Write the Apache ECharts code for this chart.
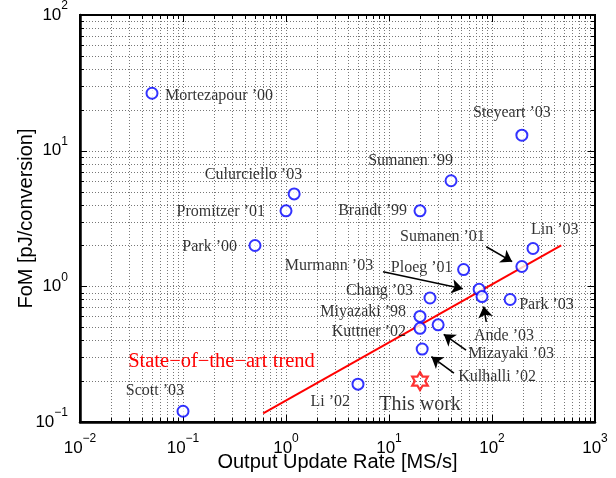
<!DOCTYPE html>
<html><head><meta charset="utf-8">
<script src="https://cdn.jsdelivr.net/npm/echarts@6/dist/echarts.min.js"></script>
<style>html,body{margin:0;padding:0;background:#fff}#c{width:616px;height:478px}</style>
</head><body><div id="c"></div>
<script>
// ---- data ----
const designNames = ["Mortezapour ’00","Steyeart ’03","Sumanen ’99","Culurciello ’03","Promitzer ’01","Brandt ’99","Park ’00","Lin ’03","Sumanen ’01","Ploeg ’01","Murmann ’03","Ande ’03","Park ’03","Chang ’03","Miyazaki ’98","Kuttner ’02","Mizayaki ’03","Kulhalli ’02","Li ’02","Scott ’03"];
const updateRateMSs = [0.05, 195, 40, 1.2, 1.0, 20, 0.5, 250, 195, 53, 75, 80, 150, 25, 20, 20, 30, 21, 5, 0.1];
const fomPJ = [26.5, 13, 6.0, 4.8, 3.6, 3.6, 2.0, 1.9, 1.4, 1.33, 0.95, 0.84, 0.8, 0.82, 0.6, 0.49, 0.52, 0.345, 0.19, 0.12];
const thisWorkName = ["This work"];
const thisWorkRate = [20];
const thisWorkFoM = [0.2];
const trendName = "State−of−the−art trend";
const trendRate = [0.6, 470];
const trendFoM = [0.116, 2.0];
const xTickValues = [0.01, 0.1, 1, 10, 100, 1000];
const yTickValues = [0.1, 1, 10, 100];
// arrows: annotation target -> tail [rate, FoM] and head [rate, FoM]
const arrowFrom = {"Sumanen ’01":[88,1.96],"Murmann ’03":[8.75,1.28],"Ande ’03":[88,0.548],"Mizayaki ’03":[56,0.339],"Kulhalli ’02":[42.7,0.229]};
const arrowTo   = {"Sumanen ’01":[157,1.52],"Murmann ’03":[52,0.96],"Ande ’03":[83,0.71],"Mizayaki ’03":[34,0.443],"Kulhalli ’02":[25.8,0.303]};

// ---- label layout (pixel offsets from marker centre) ----
const labelLayout = {
  "Mortezapour ’00":['left',13,3], "Steyeart ’03":['center',-10,-22], "Sumanen ’99":['right',2,-20],
  "Culurciello ’03":['right',8,-19], "Promitzer ’01":['right',-21,1], "Brandt ’99":['right',-13,0],
  "Park ’00":['right',-18,1], "Lin ’03":['left',-2,-19], "Sumanen ’01":['right',-37,-30],
  "Ploeg ’01":['right',-11,-2], "Murmann ’03":['right',-106,-24], "Ande ’03":['left',-8,39],
  "Park ’03":['left',9,5], "Chang ’03":['right',-17,-7], "Miyazaki ’98":['right',-14,-5],
  "Kuttner ’02":['right',-14,3], "Mizayaki ’03":['left',30,29], "Kulhalli ’02":['left',36,28],
  "Li ’02":['right',-8,18], "Scott ’03":['right',1,-20], "This work":['center',0,24]
};
const serif = "'Liberation Serif','Times New Roman',serif";
const sans = "'Liberation Sans',Arial,Helvetica,sans-serif";

function hexagram(){
  let d='';
  for(let k=0;k<12;k++){
    const a=(-90+30*k)*Math.PI/180, r=(k%2===0)?10:10/Math.sqrt(3);
    d+=(k?'L':'M')+(r*Math.cos(a)).toFixed(3)+' '+(r*Math.sin(a)).toFixed(3)+' ';
  }
  return 'path://'+d+'Z';
}

// grid lines (decades x 1..9)
const gridData = [];
function addGrid(ticks, kind){
  for(let i=0;i<ticks.length-1;i++){
    for(let m=1;m<=9;m++){
      const v = ticks[i]*m;
      if(i===0 && m===1) continue;
      gridData.push(kind===0 ? [v,1,0,m===1?1:0] : [1,v,1,m===1?1:0]);
    }
  }
}
addGrid(xTickValues,0); addGrid(yTickValues,1);

function renderGrid(params, api){
  const cs = params.coordSys;
  const L=cs.x, T=cs.y, R=cs.x+cs.width, B=cs.y+cs.height;
  const kind=api.value(2), major=api.value(3);
  const tl = major?7:4;
  const dotted={stroke:'#777',lineWidth:1,lineDash:[1,2]};
  const solid={stroke:'#000',lineWidth:1};
  const ch=[];
  if(kind===0){
    const x=Math.round(api.coord([api.value(0),1])[0])+0.5;
    ch.push({type:'line',shape:{x1:x,y1:T,x2:x,y2:B},style:dotted});
    ch.push({type:'line',shape:{x1:x,y1:B,x2:x,y2:B-tl},style:solid});
    ch.push({type:'line',shape:{x1:x,y1:T,x2:x,y2:T+tl},style:solid});
  } else {
    const y=Math.round(api.coord([1,api.value(1)])[1])+0.5;
    ch.push({type:'line',shape:{x1:L,y1:y,x2:R,y2:y},style:dotted});
    ch.push({type:'line',shape:{x1:L,y1:y,x2:L+tl,y2:y},style:solid});
    ch.push({type:'line',shape:{x1:R,y1:y,x2:R-tl,y2:y},style:solid});
  }
  return {type:'group',children:ch,silent:true};
}

function powLabel(v){
  const e=Math.round(Math.log10(v));
  return '{b|10}{s|'+(e<0?'−'+(-e):e)+'}';
}
const tickRich={b:{fontFamily:sans,fontSize:17,color:'#000',lineHeight:20},
                s:{fontFamily:sans,fontSize:12,color:'#000',lineHeight:14,padding:[0,0,18,0]}};

function itemLabel(name){
  const l=labelLayout[name];
  return {show:true,position:'inside',formatter:'{b}',align:l[0],verticalAlign:'middle',offset:[l[1],l[2]]};
}

const scatterData = designNames.map((n,i)=>({name:n,value:[updateRateMSs[i],fomPJ[i]],label:itemLabel(n)}));
const starData = thisWorkName.map((n,i)=>({name:n,value:[thisWorkRate[i],thisWorkFoM[i]],label:itemLabel(n)}));
const arrowLines = Object.keys(arrowFrom).map(k=>[{coord:arrowFrom[k]},{coord:arrowTo[k]}]);

const chart = echarts.init(document.getElementById('c'),null,{renderer:'canvas'});
chart.setOption({
  animation:false,
  backgroundColor:'#fff',
  grid:{left:80,right:21,top:15,bottom:56,outerBoundsMode:'none',containLabel:false,
        show:true,borderColor:'#000',borderWidth:2,backgroundColor:'transparent'},
  xAxis:{type:'log',logBase:10,min:0.01,max:1000,
    name:'Output Update Rate [MS/s]',nameLocation:'middle',nameGap:30,nameMoveOverlap:false,
    nameTextStyle:{fontFamily:sans,fontSize:20,color:'#000'},
    axisLine:{show:true,lineStyle:{color:'#000',width:2.5}},
    axisTick:{show:false},splitLine:{show:false},
    axisLabel:{formatter:powLabel,rich:tickRich,margin:16,color:'#000'}},
  yAxis:{type:'log',logBase:10,min:0.1,max:100,
    name:'FoM [pJ/conversion]',nameLocation:'middle',nameGap:44,nameRotate:90,nameMoveOverlap:false,
    nameTextStyle:{fontFamily:sans,fontSize:20,color:'#000'},
    axisLine:{show:true,lineStyle:{color:'#000',width:2.5}},
    axisTick:{show:false},splitLine:{show:false},
    axisLabel:{formatter:powLabel,rich:tickRich,margin:12,color:'#000'}},
  series:[
    {type:'custom',name:'grid',renderItem:renderGrid,data:gridData,z:1,silent:true,encode:{x:0,y:1},clip:false},
    {type:'line',name:trendName,data:trendRate.map((x,i)=>[x,trendFoM[i]]),showSymbol:false,symbol:'none',
      lineStyle:{color:'#ff0000',width:2},z:3,silent:true,
      markPoint:{symbol:'circle',symbolSize:0.01,silent:true,
        data:[{coord:[trendRate[0],trendFoM[0]],
          label:{show:true,position:'inside',formatter:trendName,align:'left',verticalAlign:'middle',offset:[-135,-52],
            fontFamily:serif,fontSize:20.5,color:'#ff0000'}}]}},
    {type:'line',name:'arrows',data:[],z:4,silent:true,
      markLine:{silent:true,symbol:['none','arrow'],symbolSize:11,label:{show:false},
        lineStyle:{color:'#000',width:1.6,type:'solid'},emphasis:{disabled:true},data:arrowLines}},
    {type:'scatter',name:'Published',data:scatterData,symbol:'emptyCircle',symbolSize:11,z:5,silent:true,
      itemStyle:{color:'#0000ff',borderColor:'#0000ff',borderWidth:2.3},
      label:{show:true,fontFamily:serif,fontSize:16,color:'#000'}},
    {type:'scatter',name:'This work',data:starData,symbol:hexagram(),symbolKeepAspect:true,symbolSize:18,z:6,silent:true,
      itemStyle:{color:'rgba(255,255,255,0)',borderColor:'#ff0000',borderWidth:2.2},
      label:{show:true,fontFamily:serif,fontSize:20,color:'#000'}}
  ]
});
</script></body></html>
